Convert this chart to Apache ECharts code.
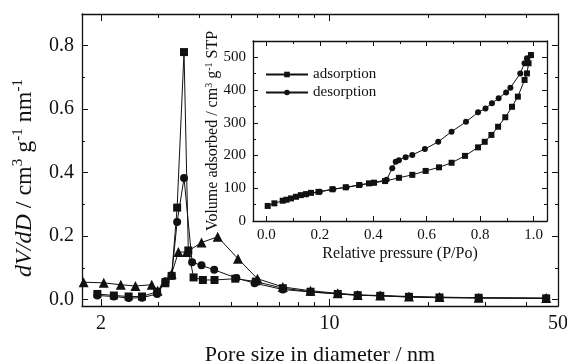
<!DOCTYPE html>
<html>
<head>
<meta charset="utf-8">
<script src="https://cdn.jsdelivr.net/npm/echarts@6/dist/echarts.min.js"></script>
<style>
  html, body { margin: 0; padding: 0; background: #fff; }
  #main { width: 567px; height: 361px; }
</style>
</head>
<body>
<div id="main"></div>
<script>
// main plot: pore size distribution (log x)
const poreMajor = [2, 10, 50];
const poreMinor = [3, 4, 5, 6, 7, 8, 9, 20, 30, 40];
const dvMajor = [0, 0.2, 0.4, 0.6, 0.8];
const dvMinor = [0.1, 0.3, 0.5, 0.7];

const poreSq = [1.95, 2.19, 2.43, 2.67, 2.97, 3.15, 3.29, 3.42, 3.59, 3.70, 3.84, 4.10, 4.45, 5.15, 5.95, 7.2, 8.75, 10.6, 12.2, 14.3, 17.5, 21.7, 28.6, 46];
const dvSq = [0.018, 0.013, 0.010, 0.010, 0.025, 0.055, 0.075, 0.290, 0.780, 0.155, 0.070, 0.062, 0.062, 0.066, 0.057, 0.036, 0.025, 0.018, 0.014, 0.012, 0.009, 0.007, 0.006, 0.004];

const poreCi = [1.95, 2.19, 2.43, 2.67, 2.97, 3.15, 3.29, 3.42, 3.59, 3.80, 4.06, 4.44, 5.19, 5.9, 7.2, 8.75, 10.6, 12.2, 14.3, 17.5, 21.7, 28.6, 46];
const dvCi = [0.013, 0.010, 0.005, 0.006, 0.018, 0.058, 0.075, 0.245, 0.383, 0.118, 0.108, 0.094, 0.068, 0.052, 0.032, 0.024, 0.018, 0.014, 0.012, 0.008, 0.006, 0.005, 0.004];

const poreTr = [1.77, 2.04, 2.30, 2.55, 2.86, 2.98, 3.13, 3.29, 3.45, 3.66, 4.06, 4.55, 5.25, 6.02, 7.2, 8.75, 10.6, 12.2, 14.3, 17.5, 21.7, 28.6, 46];
const dvTr = [0.055, 0.053, 0.047, 0.043, 0.047, 0.028, 0.055, 0.081, 0.150, 0.150, 0.180, 0.198, 0.129, 0.066, 0.040, 0.028, 0.020, 0.015, 0.013, 0.010, 0.008, 0.006, 0.005];

// inset: N2 isotherm
const pMajor = [0, 0.2, 0.4, 0.6, 0.8, 1.0];
const pMinor = [0.1, 0.3, 0.5, 0.7, 0.9];
const vMajor = [0, 100, 200, 300, 400, 500];
const vMinor = [50, 150, 250, 350, 450];

const pAds = [0.005, 0.03, 0.061, 0.075, 0.092, 0.111, 0.129, 0.148, 0.167, 0.195, 0.247, 0.297, 0.347, 0.384, 0.403, 0.444, 0.496, 0.546, 0.596, 0.646, 0.693, 0.743, 0.792, 0.817, 0.842, 0.867, 0.894, 0.919, 0.941, 0.966, 0.975, 0.981, 0.99];
const vAds = [46, 54, 62, 65, 69, 74, 79, 82, 86, 89, 97, 103, 110, 115, 117, 122, 132, 141, 153, 164, 178, 199, 225, 242, 263, 288, 317, 349, 380, 431, 451, 482, 507];

const pDes = [0.99, 0.975, 0.966, 0.95, 0.913, 0.897, 0.869, 0.844, 0.82, 0.792, 0.747, 0.693, 0.643, 0.593, 0.546, 0.521, 0.496, 0.484, 0.471, 0.45, 0.40, 0.35, 0.30, 0.25, 0.20, 0.15];
const vDes = [507, 497, 482, 451, 407, 393, 375, 360, 344, 332, 303, 273, 242, 220, 202, 195, 186, 181, 161, 126, 117, 110, 103, 97, 89, 82];

const zip = (xs, ys) => xs.map((x, i) => [x, ys[i]]);

const ink = '#111';
const serif = '"Liberation Serif", "DejaVu Serif", serif';
const line = { onZero: false, lineStyle: { color: ink, width: 1.3 } };

function tickAxis(extra) {
  // axis that only draws ticks (no line, no labels)
  return Object.assign({
    axisLine: { show: false, onZero: false },
    axisLabel: { show: false },
    splitLine: { show: false }
  }, extra);
}

const chart = echarts.init(document.getElementById('main'));
chart.setOption({
  animation: false,
  backgroundColor: '#fff',
  textStyle: { fontFamily: serif, color: ink },
  grid: [
    { left: 82, top: 14, right: 9, bottom: 55, outerBoundsMode: 'none' },
    { left: 253, top: 41, width: 294, height: 180, outerBoundsMode: 'none' }
  ],
  legend: {
    data: ['adsorption', 'desorption'],
    orient: 'vertical',
    left: 260, top: 62,
    itemWidth: 42, itemHeight: 7, itemGap: 3,
    textStyle: { fontFamily: serif, fontSize: 15, color: ink }
  },
  xAxis: [
    {
      gridIndex: 0, type: 'log', logBase: 10, min: 1.75, max: 50, position: 'bottom',
      axisLine: line,
      axisTick: { inside: true, length: 7, customValues: poreMajor, lineStyle: { color: ink } },
      axisLabel: { customValues: poreMajor, fontSize: 20, margin: 8, color: ink, fontFamily: serif },
      splitLine: { show: false },
      name: 'Pore size in diameter / nm', nameLocation: 'middle', nameGap: 38, nameMoveOverlap: false,
      nameTextStyle: { fontSize: 22, fontFamily: serif, color: ink }
    },
    tickAxis({ gridIndex: 0, type: 'log', logBase: 10, min: 1.75, max: 50, position: 'bottom',
      axisTick: { inside: true, length: 4, customValues: poreMinor, lineStyle: { color: ink } } }),
    {
      gridIndex: 0, type: 'log', logBase: 10, min: 1.75, max: 50, position: 'top',
      axisLine: line,
      axisTick: { inside: true, length: 7, customValues: poreMajor, lineStyle: { color: ink } },
      axisLabel: { show: false }, splitLine: { show: false }
    },
    tickAxis({ gridIndex: 0, type: 'log', logBase: 10, min: 1.75, max: 50, position: 'top',
      axisTick: { inside: true, length: 4, customValues: poreMinor, lineStyle: { color: ink } } }),
    {
      gridIndex: 1, type: 'value', min: -0.05, max: 1.05, position: 'bottom',
      axisLine: line,
      axisTick: { inside: true, length: 5, customValues: pMajor, lineStyle: { color: ink } },
      axisLabel: { customValues: pMajor, fontSize: 15, margin: 7, color: ink, fontFamily: serif,
        formatter: v => v.toFixed(1) },
      splitLine: { show: false },
      name: 'Relative pressure (P/Po)', nameLocation: 'middle', nameGap: 25, nameMoveOverlap: false,
      nameTextStyle: { fontSize: 16, fontFamily: serif, color: ink }
    },
    tickAxis({ gridIndex: 1, type: 'value', min: -0.05, max: 1.05, position: 'bottom',
      axisTick: { inside: true, length: 3, customValues: pMinor, lineStyle: { color: ink } } }),
    {
      gridIndex: 1, type: 'value', min: -0.05, max: 1.05, position: 'top',
      axisLine: line,
      axisTick: { inside: true, length: 5, customValues: pMajor, lineStyle: { color: ink } },
      axisLabel: { show: false }, splitLine: { show: false }
    },
    tickAxis({ gridIndex: 1, type: 'value', min: -0.05, max: 1.05, position: 'top',
      axisTick: { inside: true, length: 3, customValues: pMinor, lineStyle: { color: ink } } })
  ],
  yAxis: [
    {
      gridIndex: 0, type: 'value', min: -0.02, max: 0.9, position: 'left',
      axisLine: line,
      axisTick: { inside: true, length: 6, customValues: dvMajor, lineStyle: { color: ink } },
      axisLabel: { customValues: dvMajor, fontSize: 20, margin: 8, color: ink, fontFamily: serif,
        formatter: v => v.toFixed(1) },
      splitLine: { show: false },
      name: '{i|dV/dD} / cm{s|3} g{s|-1} nm{s|-1}', nameLocation: 'middle', nameGap: 44, nameMoveOverlap: false,
      nameTextStyle: {
        fontSize: 24, fontFamily: serif, color: ink, lineHeight: 27, padding: [0, 36, 0, 0],
        rich: {
          i: { fontStyle: 'italic', fontSize: 24, fontFamily: serif, color: ink, lineHeight: 27 },
          s: { fontSize: 15, fontFamily: serif, color: ink, lineHeight: 16, verticalAlign: 'top' }
        }
      }
    },
    tickAxis({ gridIndex: 0, type: 'value', min: -0.02, max: 0.9, position: 'left',
      axisTick: { inside: true, length: 3, customValues: dvMinor, lineStyle: { color: ink } } }),
    {
      gridIndex: 0, type: 'value', min: -0.02, max: 0.9, position: 'right',
      axisLine: line,
      axisTick: { inside: true, length: 6, customValues: dvMajor, lineStyle: { color: ink } },
      axisLabel: { show: false }, splitLine: { show: false }
    },
    tickAxis({ gridIndex: 0, type: 'value', min: -0.02, max: 0.9, position: 'right',
      axisTick: { inside: true, length: 3, customValues: dvMinor, lineStyle: { color: ink } } }),
    {
      gridIndex: 1, type: 'value', min: 0, max: 550, position: 'left',
      axisLine: line,
      axisTick: { inside: true, length: 5, customValues: vMajor, lineStyle: { color: ink } },
      axisLabel: { customValues: vMajor, fontSize: 15, margin: 7, color: ink, fontFamily: serif },
      splitLine: { show: false },
      name: 'Volume adsorbed / cm{s|3} g{s|-1} STP', nameLocation: 'middle', nameGap: 31, nameMoveOverlap: false,
      nameTextStyle: {
        fontSize: 16, fontFamily: serif, color: ink, lineHeight: 18,
        rich: { s: { fontSize: 10, fontFamily: serif, color: ink, lineHeight: 10, verticalAlign: 'top' } }
      }
    },
    tickAxis({ gridIndex: 1, type: 'value', min: 0, max: 550, position: 'left',
      axisTick: { inside: true, length: 3, customValues: vMinor, lineStyle: { color: ink } } }),
    {
      gridIndex: 1, type: 'value', min: 0, max: 550, position: 'right',
      axisLine: line,
      axisTick: { inside: true, length: 5, customValues: vMajor, lineStyle: { color: ink } },
      axisLabel: { show: false }, splitLine: { show: false }
    },
    tickAxis({ gridIndex: 1, type: 'value', min: 0, max: 550, position: 'right',
      axisTick: { inside: true, length: 3, customValues: vMinor, lineStyle: { color: ink } } })
  ],
  series: [
    {
      name: 'triangle', type: 'line', xAxisIndex: 0, yAxisIndex: 0,
      data: zip(poreTr, dvTr), symbol: 'triangle', symbolSize: 10,
      lineStyle: { color: ink, width: 1 }, itemStyle: { color: ink }
    },
    {
      name: 'circle', type: 'line', xAxisIndex: 0, yAxisIndex: 0,
      data: zip(poreCi, dvCi), symbol: 'circle', symbolSize: 8,
      lineStyle: { color: ink, width: 1 }, itemStyle: { color: ink }
    },
    {
      name: 'square', type: 'line', xAxisIndex: 0, yAxisIndex: 0,
      data: zip(poreSq, dvSq), symbol: 'rect', symbolSize: 8,
      lineStyle: { color: ink, width: 1 }, itemStyle: { color: ink }
    },
    {
      name: 'adsorption', type: 'line', xAxisIndex: 4, yAxisIndex: 4,
      data: zip(pAds, vAds), symbol: 'rect', symbolSize: 6,
      lineStyle: { color: ink, width: 1 }, itemStyle: { color: ink }
    },
    {
      name: 'desorption', type: 'line', xAxisIndex: 4, yAxisIndex: 4,
      data: zip(pDes, vDes), symbol: 'circle', symbolSize: 6,
      lineStyle: { color: ink, width: 1 }, itemStyle: { color: ink }
    }
  ]
});
</script>
</body>
</html>
